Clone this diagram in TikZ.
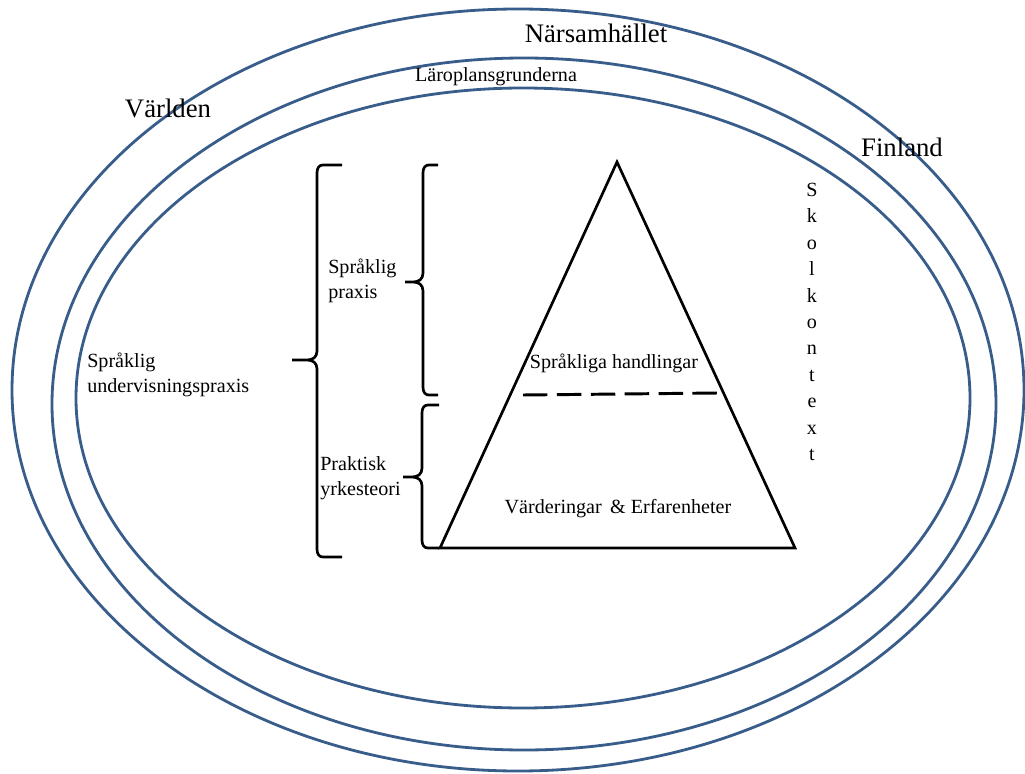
\documentclass[tikz,border=0pt]{standalone}
\usepackage{fontspec}
\setmainfont{Liberation Serif}
\usetikzlibrary{positioning}

\definecolor{ringblue}{RGB}{56,93,138}

% x, top, tip, bottom, hook, tip length
\newcommand{\klammer}[6]{%
  \draw[klammerlinje] (#1+#5,#2) -- (#1+6,#2) .. controls (#1+2,#2) and (#1,#2+3) .. (#1,#2+8)
    -- (#1,#3-9) .. controls (#1,#3-3) and (#1-4,#3) .. (#1-10,#3) -- (#1-#6,#3)
    (#1-10,#3) .. controls (#1-4,#3) and (#1,#3+3) .. (#1,#3+9)
    -- (#1,#4-8) .. controls (#1,#4-3) and (#1+2,#4) .. (#1+6,#4) -- (#1+#5,#4);}

\begin{document}
\begin{tikzpicture}[x=0.025cm,y=-0.025cm,every node/.style={inner sep=0pt}]
  \tikzstyle{ring}=[draw=ringblue,line width=2pt]
  \tikzstyle{klammerlinje}=[draw=black,line width=1.9pt,line join=round]
  \tikzstyle{stor}=[font=\fontsize{19}{23}\selectfont]
  \tikzstyle{liten}=[font=\fontsize{14.3}{17.7}\selectfont]

  \useasboundingbox (0,0) rectangle (1025,774);

  \draw[ring] (518,390) ellipse [x radius=506,y radius=381];
  \draw[ring] (524,404) ellipse [x radius=472,y radius=346];
  \draw[ring] (523,398) ellipse [x radius=447,y radius=310];

  \node[stor] (narsamhallet) at (596,33) {Närsamhället};
  \node[liten] (laroplan) at (496,77) {Läroplansgrunderna};
  \node[stor] (varlden) at (168,108) {Världen};
  \node[stor] (finland) at (902,147) {Finland};
  \node[font=\fontsize{14.3}{18.8}\selectfont,align=center] (skolkontext) at (812,322)
    {S\\k\\o\\l\\k\\o\\n\\t\\e\\x\\t};

  % pyramiden
  \coordinate (topp) at (617,162);
  \coordinate (bas_v) at (440,548);
  \coordinate (bas_h) at (795,548);
  \draw[line width=1.9pt,line join=miter] (topp) -- (bas_h) -- (bas_v) -- cycle;
  \draw[line width=2.1pt,dash pattern=on 17.4pt off 6.7pt] (523,395) -- (718,393);

  \node[liten] (handlingar) at (614,363) {Språkliga handlingar};
  \node[liten] (varderingar) at (618,509) {Värderingar \,\& Erfarenheter};

  % klamrar
  \klammer{317}{165}{360}{557}{25}{25}
  \klammer{423}{165}{282}{395}{15}{18}
  \klammer{422}{405}{477}{548}{17}{19}

  \node[liten,align=left,anchor=west] (undervisning) at (87,375) {Språklig\\undervisningspraxis};
  \node[liten,align=left,anchor=west] (praxis) at (328,281) {Språklig\\praxis};
  \node[liten,align=left,anchor=west] (yrkesteori) at (320,478) {Praktisk\\yrkesteori};
\end{tikzpicture}
\end{document}
